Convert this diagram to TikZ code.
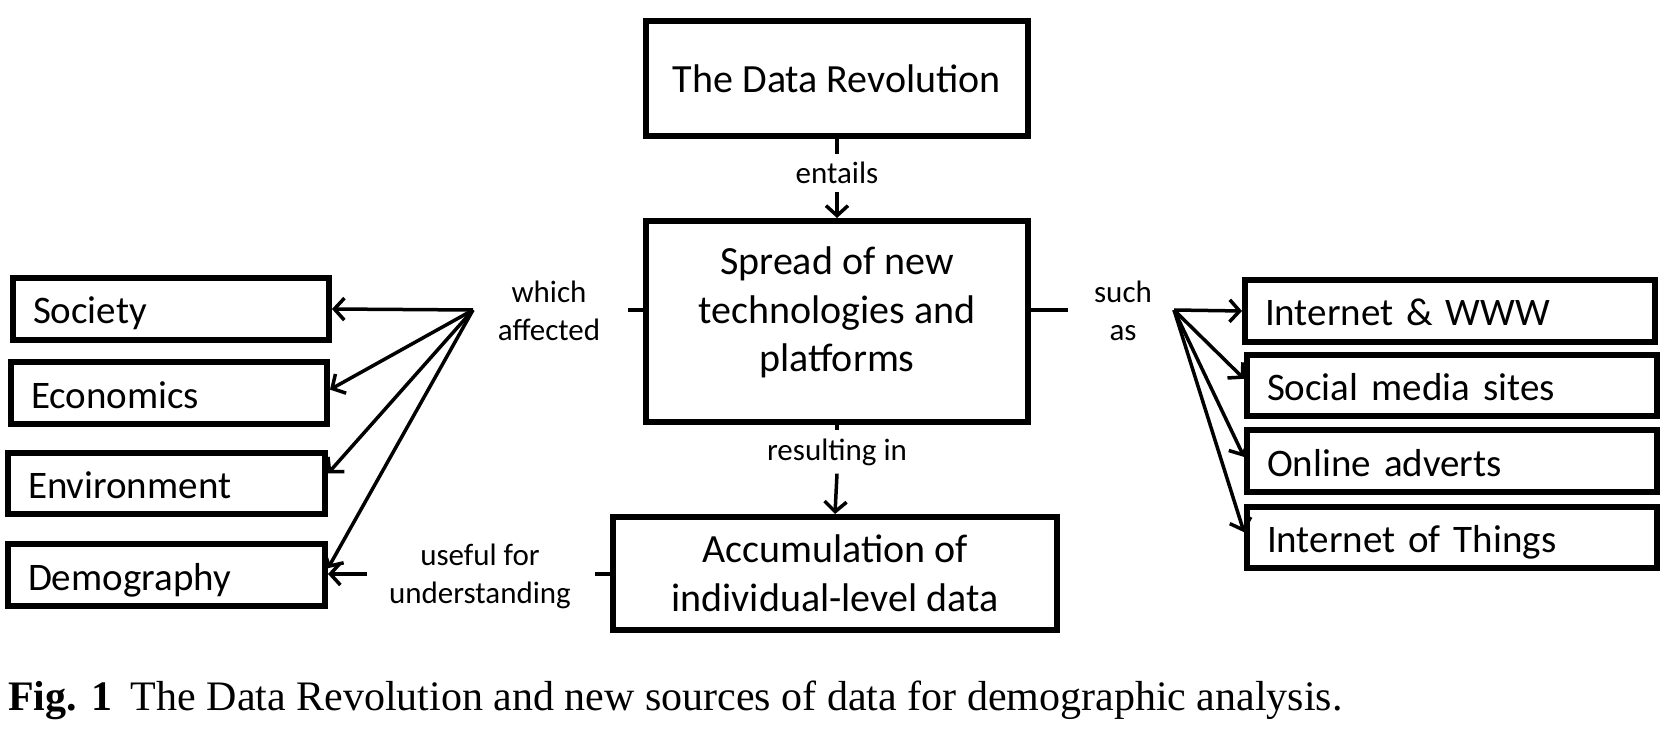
\documentclass[tikz,border=0pt]{standalone}
\usepackage{fontspec}
\setmainfont{Liberation Serif}
\newfontfamily\boxfont{Carlito}
\usetikzlibrary{arrows.meta,calc}
\begin{document}
\begin{tikzpicture}[x=1pt,y=-1pt,
  >={Straight Barb[length=10pt,width=22pt]},
  bigbox/.style={draw,line width=6pt,rectangle,align=center,font=\boxfont\fontsize{40}{48.5}\selectfont,inner sep=0pt},
  sidebox/.style={draw,line width=6pt,rectangle,align=left,font=\boxfont\fontsize{39}{48}\selectfont,inner xsep=20pt,inner ysep=0pt,text height=30pt,text depth=0pt},
  lbl/.style={align=center,font=\boxfont\fontsize{31}{38}\selectfont,inner sep=0pt},
  conn/.style={line width=3.5pt}]
\useasboundingbox (0,0) rectangle (1666,735);
% main column
\node[bigbox,minimum width=382pt,minimum height=115pt] (rev) at (837,78.5) {The Data Revolution};
\node[bigbox,minimum width=382pt,minimum height=201pt,text depth=24pt] (spread) at (837,321.5) {Spread of new\\technologies and\\platforms};
\node[bigbox,minimum width=444pt,minimum height=113pt] (accum) at (835,573.5) {Accumulation of\\individual-level data};
% left boxes
\node[sidebox,minimum width=316pt,minimum height=62pt,text width=276pt] (society) at (171,309) {Society};
\node[sidebox,minimum width=316pt,minimum height=62pt,text width=276pt] (economics) at (169,393) {Economics};
\node[sidebox,minimum width=317pt,minimum height=61pt,text width=277pt] (environment) at (166.5,483.5) {Environment};
\node[sidebox,minimum width=317pt,minimum height=62pt,text width=277pt] (demography) at (166.5,575) {Demography};
% right boxes
\node[sidebox,minimum width=410pt,minimum height=62pt,text width=370pt] (internet) at (1450,311) {Internet \& WWW};
\node[sidebox,minimum width=410pt,minimum height=61pt,text width=370pt] (social) at (1452,385.5) {Social media sites};
\node[sidebox,minimum width=410pt,minimum height=62pt,text width=370pt] (online) at (1452,461) {Online adverts};
\node[sidebox,minimum width=410pt,minimum height=61pt,text width=370pt] (iot) at (1452,537.5) {Internet of Things};
% labels
\node[lbl,inner ysep=8pt] (entails) at (837,173) {entails};
\node[lbl,inner ysep=8pt] (resulting) at (837,452) {resulting in};
\node[lbl] (which) at (549,311) {which\\affected};
\node[lbl] (such) at (1123,311) {such\\as};
\node[lbl] (useful) at (480,576) {useful for\\understanding};
% connector coordinates
\coordinate (wstub) at (628,310);
\coordinate (wfan) at (473,310);
\coordinate (sstub) at (1068,310);
\coordinate (sfan) at (1174,310);
\coordinate (ustub) at (595,574);
\coordinate (ustart) at (367,574);
% vertical connectors
\draw[conn] (rev.south) -- (entails.north);
\draw[conn,->] (entails.south) -- (spread.north);
\draw[conn] (spread.south) -- (resulting.north);
\draw[conn,->] (resulting.south) -- (accum.north);
% which affected
\draw[conn] (spread.west |- wstub) -- (wstub);
\draw[conn,->] (wfan) -- (society.east);
\draw[conn,->] (wfan) -- ($(economics.north east)!0.45!(economics.south east)$);
\draw[conn,->] (wfan) -- ($(environment.north east)!0.35!(environment.south east)$);
\draw[conn,->] (wfan) -- ($(demography.north east)!0.4!(demography.south east)$);
% such as
\draw[conn] (spread.east |- sstub) -- (sstub);
\draw[conn,->] (sfan) -- (internet.west);
\draw[conn,->] (sfan) -- ($(social.north west)!0.4!(social.south west)$);
\draw[conn,->] (sfan) -- ($(online.north west)!0.44!(online.south west)$);
\draw[conn,->] (sfan) -- ($(iot.north west)!0.42!(iot.south west)$);
% useful for understanding
\draw[conn] (accum.west |- ustub) -- (ustub);
\draw[conn,->] (ustart) -- (demography.east |- ustart);
% caption
\node[anchor=base west,inner sep=0pt,font=\fontsize{42}{50}\selectfont] (caption) at (8,710) {\textbf{Fig. 1}\hspace{0.45em}The Data Revolution and new sources of data for demographic analysis.};
\end{tikzpicture}
\end{document}
